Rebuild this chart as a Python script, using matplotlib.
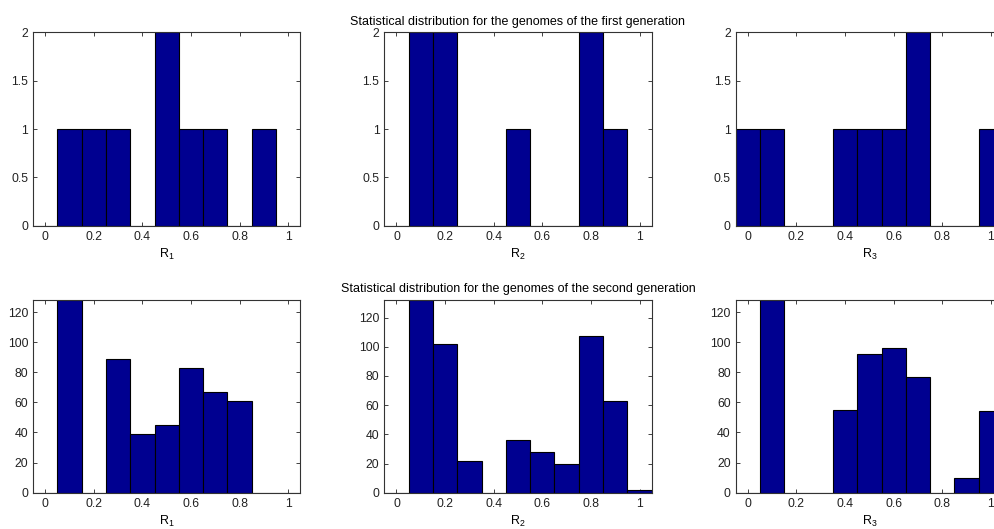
import numpy as np
import matplotlib
matplotlib.use('Agg')
import matplotlib.pyplot as plt

plt.rcParams['font.family'] = 'Liberation Sans'
plt.rcParams['mathtext.default'] = 'regular'

# bin centres shared by every histogram
centers = [0.0, 0.1, 0.2, 0.3, 0.4, 0.5, 0.6, 0.7, 0.8, 0.9, 1.0]

# first generation (8 genomes)
gen1_r1 = [0, 1, 1, 1, 0, 2, 1, 1, 0, 1, 0]
gen1_r2 = [0, 2, 2, 0, 0, 1, 0, 0, 2, 1, 0]
gen1_r3 = [1, 1, 0, 0, 1, 1, 1, 2, 0, 0, 1]

# second generation (512 genomes)
gen2_r1 = [0, 128, 0, 89, 39, 45, 83, 67, 61, 0, 0]
gen2_r2 = [0, 132, 102, 22, 0, 36, 28, 20, 107, 63, 2]
gen2_r3 = [0, 128, 0, 0, 55, 92, 96, 77, 0, 10, 54]

labels = ['R$_1$', 'R$_2$', 'R$_3$']
titles = ['Statistical distribution for the genomes of the first generation',
          'Statistical distribution for the genomes of the second generation']

W, H = 994, 529
fig = plt.figure(figsize=(W / 100, H / 100), dpi=100)

lefts = [33, 384.3, 735.7]
rows = [(32.3, 225.7), (300, 492.7)]
axw = 267.4

data = [[gen1_r1, gen1_r2, gen1_r3], [gen2_r1, gen2_r2, gen2_r3]]

for r, (top, bot) in enumerate(rows):
    for c in range(3):
        ax = fig.add_axes([lefts[c] / W, (H - bot) / H, axw / W, (bot - top) / H])
        counts = data[r][c]
        ax.bar(centers, counts, width=0.1, color='#000090', edgecolor='black',
               linewidth=0.8, zorder=2)
        ax.set_xlim(-0.05, 1.05)
        ax.set_ylim(0, max(counts))
        ax.set_xticks([0, 0.2, 0.4, 0.6, 0.8, 1.0])
        ax.set_xticklabels(['0', '0.2', '0.4', '0.6', '0.8', '1'])
        if r == 0:
            ax.set_yticks([0, 0.5, 1, 1.5, 2])
            ax.set_yticklabels(['0', '0.5', '1', '1.5', '2'])
        else:
            ax.set_yticks(range(0, 121, 20))
        ax.tick_params(direction='in', length=3, width=0.6, top=True, right=True,
                       labelsize=8.8, pad=3.5, colors='#222222')
        for s in ax.spines.values():
            s.set_linewidth(0.8)
            s.set_color('#333333')
            s.set_zorder(3)
        ax.set_xlabel(labels[c], fontsize=9, labelpad=3)
        if c == 1:
            ax.set_title(titles[r], fontsize=9, pad=5.5)

fig.savefig('out.png', dpi=100)
